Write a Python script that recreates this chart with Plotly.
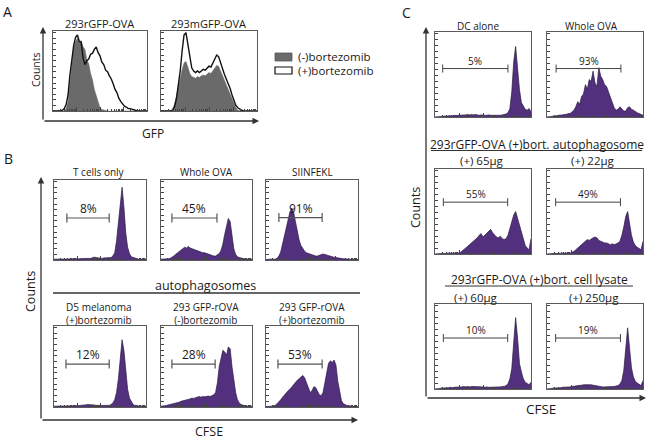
import math
import plotly.graph_objects as go

W, H = 651, 439
CHANNEL = list(range(0, 101, 2))  # 51 bins across the log fluorescence scale

# ---------------- Panel A : GFP ----------------
A_TITLES = ["293rGFP-OVA", "293mGFP-OVA"]
A_LEGEND = ["(-)bortezomib", "(+)bortezomib"]
A1_MINUS = [0, 0, 0, 0, 0, 0, 0, 3, 12, 35, 60, 78, 87, 91, 86, 88, 80, 77, 64, 59,
            47, 39, 27, 19, 9, 4, 2, 1, 0, 0, 0, 0, 0, 0, 0, 0, 0, 0, 0, 0,
            0, 0, 0, 0, 0, 0, 0, 0, 0, 0, 0]
A1_PLUS = [0, 0, 0, 0, 0, 1, 3, 8, 20, 45, 68, 82, 92, 95, 87, 86, 66, 58, 63, 65,
           71, 72, 77, 80, 73, 69, 61, 58, 51, 49, 44, 40, 34, 27, 23, 16, 12, 9, 6, 5,
           3, 3, 2, 1, 0, 0, 0, 0, 0, 0, 0]
A2_MINUS = [0, 0, 0, 0, 0, 0, 2, 8, 18, 30, 42, 52, 60, 62, 55, 47, 43, 42, 41, 43,
            42, 44, 45, 44, 46, 48, 47, 50, 54, 57, 56, 50, 44, 38, 32, 27, 22, 15, 9, 4,
            1, 0, 0, 0, 0, 0, 0, 0, 0, 0, 0]
A2_PLUS = [0, 0, 0, 0, 0, 0, 1, 5, 15, 30, 50, 75, 95, 98, 82, 65, 54, 50, 48, 50,
           48, 50, 52, 51, 54, 56, 55, 60, 66, 70, 68, 60, 52, 46, 40, 35, 28, 20, 12, 7,
           4, 2, 1, 0, 0, 0, 0, 0, 0, 0, 0]

# ---------------- Panel B : CFSE, T cells ----------------
B_TITLES = ["T cells only", "Whole OVA", "SIINFEKL",
            "D5 melanoma<br>(+)bortezomib", "293 GFP-rOVA<br>(-)bortezomib",
            "293 GFP-rOVA<br>(+)bortezomib"]
B_GROUP = "autophagosomes"
B_PCT = ["8%", "45%", "91%", "12%", "28%", "53%"]
B1 = [1, 1, 1.5, 1, 1.5, 1, 1, 1.5, 1, 1.5, 1, 1.5, 1, 1.5, 1.5, 2, 1.5, 2, 2, 2.5,
      2, 3, 3.5, 3, 2.5, 2, 2, 2.5, 2.5, 3, 3, 3, 5, 9, 24, 45, 70, 91, 66, 34,
      16, 8, 4, 3, 2, 1.5, 1, 1, 1, 1, 1]
B2 = [1, 1, 1, 1, 1.5, 2, 3, 5, 7, 9, 11, 13, 14, 16, 15, 17, 15, 14, 13, 12,
      12, 11, 10, 9, 9, 8, 7, 6, 6, 5, 5, 6, 8, 12, 20, 32, 44, 52, 48, 30,
      14, 7, 4, 3, 2, 2, 1.5, 1, 1, 1, 1]
B3 = [0.5, 1, 1, 1, 1, 1, 2, 5, 10, 20, 32, 42, 52, 60, 65, 60, 48, 35, 25, 18,
      14, 11, 9, 8, 7, 6, 6, 5, 5, 6, 7, 7.5, 7, 6, 5, 4.5, 4, 3.5, 3, 2.5,
      2, 2, 1.5, 1.5, 1, 1, 1, 1, 0.5, 0.5, 0.5]
B4 = [1, 1, 1, 1, 1, 1, 1, 1, 1, 1, 1, 1, 1, 1.5, 2, 2, 2.5, 2.5, 3, 3,
      3, 2.5, 2.5, 2, 2, 2, 1.5, 1.5, 1.5, 2, 2, 3, 5, 9, 18, 35, 58, 83, 70, 45,
      22, 11, 6, 3, 2, 1.5, 1, 1, 1, 1, 1]
B5 = [1, 1, 1.5, 2, 2.5, 3, 3.5, 4, 5, 5.5, 6, 7, 7.5, 8, 9, 9.5, 10, 11, 10.5, 11.5,
      12, 13, 12, 13, 12.5, 13, 13.5, 13, 14, 15, 18, 30, 50, 62, 70, 68, 64, 74, 72, 50,
      32, 18, 9, 5, 3, 2, 1.5, 1, 1, 1, 1]
B6 = [0.5, 0.5, 1, 1, 1.5, 2, 4, 6, 9, 12, 15, 18, 20, 22, 25, 28, 30, 33, 35, 37,
      39, 36, 30, 22, 18, 20, 25, 24, 19, 15, 14, 18, 30, 45, 54, 57, 55, 58, 52, 32,
      18, 8, 4, 2.5, 2, 1.5, 1, 1, 0.5, 0.5, 0.5]

# ---------------- Panel C : CFSE, DC presentation ----------------
C_TITLES = ["DC alone", "Whole OVA", "(+) 65\u03bcg", "(+) 22\u03bcg",
            "(+) 60\u03bcg", "(+) 250\u03bcg"]
C_GROUPS = ["293rGFP-OVA (+)bort. autophagosome", "293rGFP-OVA (+)bort. cell lysate"]
C_PCT = ["5%", "93%", "55%", "49%", "10%", "19%"]
C1 = [0, 0, 0, 0.5, 1, 1, 1.5, 1, 1.5, 1.5, 2, 1.5, 2, 2, 2.5, 2, 2.5, 3, 2.5, 3,
      2.5, 3, 2.5, 2, 2.5, 2, 2, 2, 2.5, 2, 2, 1.5, 2, 2, 2, 2.5, 3, 3.5, 5, 10,
      30, 65, 83, 55, 32, 17, 12, 9, 8, 10, 6]
C2 = [0, 0, 0.5, 1, 1, 1.5, 2, 2, 2.5, 3, 3, 4, 4, 6, 8, 12, 18, 15, 24, 27,
      38, 33, 44, 42, 54, 40, 36, 58, 48, 44, 38, 36, 30, 24, 17, 11, 8, 9, 12, 10,
      7, 7, 11, 12, 9, 8, 6, 5, 4, 3, 2]
C3 = [0, 0, 0.5, 0.5, 1, 0.5, 1, 1, 0.5, 1, 1, 1, 1, 1.5, 3, 5, 7, 9, 11, 13,
      15, 16, 19, 22, 24, 20, 22, 25, 27, 29, 25, 22, 20, 19, 21, 18, 17, 18, 22, 30,
      40, 46, 50, 42, 34, 27, 18, 10, 7, 5, 18]
C4 = [0, 0, 0.5, 0.5, 1, 0.5, 1, 0.5, 1, 1, 1, 1, 1, 2, 3, 5, 7, 9, 11, 12,
      15, 17, 16, 18, 19, 20, 19, 16, 15, 14, 13, 13, 12, 11, 12, 11, 12, 13, 15, 22,
      32, 44, 50, 36, 22, 14, 10, 8, 6, 5, 15]
C5 = [0, 0, 0.5, 1, 1, 1, 1.5, 1.5, 2, 1.5, 2, 2, 2.5, 2, 2.5, 3, 2.5, 3, 2.5, 3,
      3, 2.5, 3, 2.5, 3, 2.5, 2, 2.5, 2, 2, 2.5, 2, 2, 2, 2.5, 3, 3, 4, 6, 12,
      24, 55, 84, 60, 30, 20, 12, 8, 6, 5, 8]
C6 = [0, 0, 0.5, 1, 1, 1, 1.5, 1.5, 2, 2, 2, 2.5, 2.5, 3, 3, 3.5, 4, 4, 4.5, 5,
      5, 5.5, 5, 5, 4.5, 4, 3.5, 3, 3, 2.5, 2.5, 2.5, 2.5, 2.5, 3, 3, 3.5, 4, 6, 10,
      22, 48, 72, 48, 25, 14, 9, 7, 5, 4, 10]

for s in [A1_MINUS, A1_PLUS, A2_MINUS, A2_PLUS, B1, B2, B3, B4, B5, B6,
          C1, C2, C3, C4, C5, C6]:
    assert len(s) == len(CHANNEL)

# ---------------- styling ----------------
FONT = "Open Sans, DejaVu Sans, sans-serif"
TXT = "#1a1a1a"
PURPLE = "#52307e"
PURPLE_LINE = "#2a1b40"
GREY_FILL = "#6a6a6a"
BOX = "#5a5a5a"
AX = "#333333"

MAJ = [0, 25, 50, 75, 100]
MIN = [25 * (d + math.log10(k)) for d in range(4) for k in range(2, 10)]
YT = list(range(0, 100, 7))

BOXES = [
    (53, 147, 31, 111), (161, 257, 31, 111),                           # A
    (54, 146, 180, 260), (161, 252, 180, 260), (266, 358, 180, 260),    # B top
    (54, 146, 326, 407), (161, 252, 326, 407), (266, 358, 326, 407),    # B bottom
    (435, 531, 32, 117), (547, 643, 32, 117),                           # C
    (435, 531, 169, 254), (547, 643, 169, 254),
    (435, 531, 304, 389), (547, 643, 304, 389),
]

fig = go.Figure()
lay = {}


def px(x):
    return x / W


def py(y):
    return 1 - y / H


for i, (x0, x1, y0, y1) in enumerate(BOXES):
    n = i + 1
    sx = "" if n == 1 else str(n)
    common = dict(range=[0, 100], showline=True, mirror=True, linecolor=BOX,
                  linewidth=1, ticks="inside", tickcolor="#444444", tickwidth=1,
                  showticklabels=False, showgrid=False, zeroline=False,
                  fixedrange=True)
    lay["xaxis" + sx] = dict(domain=[px(x0), px(x1)], anchor="y" + sx,
                             tickvals=MAJ, ticklen=4,
                             minor=dict(ticks="inside", tickvals=MIN, ticklen=2.5,
                                        tickcolor="#444444", tickwidth=0.8,
                                        showgrid=False),
                             **common)
    lay["yaxis" + sx] = dict(domain=[py(y1), py(y0)], anchor="x" + sx,
                             tickvals=YT, ticklen=2.5, **common)


def hist(n, vals, fill=PURPLE, line=PURPLE_LINE, width=0.7, filled=True):
    sx = "" if n == 1 else str(n)
    fig.add_trace(go.Scatter(
        x=CHANNEL, y=vals, mode="lines", xaxis="x" + sx, yaxis="y" + sx,
        line=dict(color=line, width=width),
        fill="tozeroy" if filled else None,
        fillcolor=fill if filled else None,
        hoverinfo="skip", showlegend=False))


# Panel A traces
hist(1, A1_MINUS, fill=GREY_FILL, line=GREY_FILL, width=0.5)
hist(1, A1_PLUS, line="#111111", width=1.4, filled=False)
hist(2, A2_MINUS, fill=GREY_FILL, line=GREY_FILL, width=0.5)
hist(2, A2_PLUS, line="#111111", width=1.4, filled=False)
# Panel B / C traces
for n, s in zip(range(3, 15), [B1, B2, B3, B4, B5, B6, C1, C2, C3, C4, C5, C6]):
    hist(n, s)

ann = []
shapes = []


def text(x, y, s, size, angle=0, xanchor="center", yanchor="middle"):
    ann.append(dict(x=px(x), y=py(y), xref="paper", yref="paper", text=s,
                    showarrow=False, textangle=angle, xanchor=xanchor,
                    yanchor=yanchor, font=dict(family=FONT, size=size, color=TXT)))


def arrow(tip, tail):
    ann.append(dict(x=px(tip[0]), y=py(tip[1]), xref="paper", yref="paper",
                    ax=tail[0] - tip[0], ay=tail[1] - tip[1], axref="pixel",
                    ayref="pixel", text="", showarrow=True, arrowhead=2,
                    arrowsize=1, arrowwidth=1.3, arrowcolor=AX, standoff=0))


def hline(x0, x1, y, color=AX, w=1.2):
    shapes.append(dict(type="line", xref="paper", yref="paper", x0=px(x0), x1=px(x1),
                       y0=py(y), y1=py(y), line=dict(color=color, width=w)))


def vline(x, y0, y1, color=AX, w=1.2):
    shapes.append(dict(type="line", xref="paper", yref="paper", x0=px(x), x1=px(x),
                       y0=py(y0), y1=py(y1), line=dict(color=color, width=w)))


def bracket(box, f0, f1, fy, label, size, tick, color, w, gap):
    x0, x1, y0, y1 = box
    a = x0 + (x1 - x0) * f0 / 100
    b = x0 + (x1 - x0) * f1 / 100
    y = y1 - (y1 - y0) * fy / 100
    hline(a, b, y, color, w)
    vline(a, y - tick, y + tick, color, w)
    vline(b, y - tick, y + tick, color, w)
    text((a + b) / 2, y - gap, label, size, yanchor="bottom")


# ---- Panel A decorations ----
text(7, 12, "A", 14)
text(99, 24, A_TITLES[0], 11)
text(208, 24, A_TITLES[1], 11)
arrow((43, 27), (43, 121))
arrow((259, 121), (43, 121))
text(36, 70, "Counts", 10.5, angle=-90)
text(153, 133, "GFP", 12)
shapes.append(dict(type="rect", xref="paper", yref="paper", x0=px(275), x1=px(292),
                   y0=py(61), y1=py(53), fillcolor=GREY_FILL,
                   line=dict(color="#555555", width=0.8)))
shapes.append(dict(type="rect", xref="paper", yref="paper", x0=px(275), x1=px(292),
                   y0=py(74), y1=py(67), fillcolor="white",
                   line=dict(color="#111111", width=1.2)))
text(296, 57, A_LEGEND[0], 11.5, xanchor="left")
text(296, 70, A_LEGEND[1], 11.5, xanchor="left")

# ---- Panel B decorations ----
text(8, 158, "B", 14)
text(99, 172, B_TITLES[0], 10)
text(206, 172, B_TITLES[1], 10)
text(312, 172, B_TITLES[2], 10)
text(205, 285, B_GROUP, 12.5)
hline(53, 360, 293, color=AX, w=1.4)
text(99, 313.5, B_TITLES[3], 10)
text(206, 313.5, B_TITLES[4], 10)
text(312, 313.5, B_TITLES[5], 10)
arrow((41, 177), (41, 420))
arrow((358, 420), (41, 420))
text(30, 292, "Counts", 12.5, angle=-90)
text(209, 431, "CFSE", 12.5)
b_fy = [52.5, 52.5, 53, 53, 53, 53]
b_f = [(14, 60), (12, 61.5), (14, 61), (13, 60), (12, 59.5), (13, 61)]
for k in range(6):
    bracket(BOXES[2 + k], b_f[k][0], b_f[k][1], b_fy[k], B_PCT[k], 12, 4.5,
            "#555555", 1.2, -1)

# ---- Panel C decorations ----
text(406, 13, "C", 14)
text(478, 26, C_TITLES[0], 10)
text(591, 26, C_TITLES[1], 10)
text(537, 144, C_GROUPS[0], 12)
hline(431, 642, 150.5, color=AX, w=1)
text(482, 161, C_TITLES[2], 11.5)
text(593, 161, C_TITLES[3], 11.5)
text(539, 279, C_GROUPS[1], 12)
hline(445, 633, 286, color=AX, w=1)
text(476, 297.5, C_TITLES[4], 11.5)
text(594, 297, C_TITLES[5], 11.5)
arrow((426, 27), (426, 398))
arrow((646, 398), (426, 398))
text(415, 208, "Counts", 12.5, angle=-90)
text(541, 409, "CFSE", 13.5)
c_f = [(8, 76), (9.5, 77), (8.7, 75.7), (9, 76.5), (8.7, 75.7), (9, 76.5)]
c_fy = [57, 57, 61, 61, 60, 60]
for k in range(6):
    bracket(BOXES[8 + k], c_f[k][0], c_f[k][1], c_fy[k], C_PCT[k], 10, 4,
            "#444444", 1, -1)

fig.update_layout(width=W, height=H, margin=dict(l=0, r=0, t=0, b=0),
                  paper_bgcolor="white", plot_bgcolor="white",
                  annotations=ann, shapes=shapes, showlegend=False, **lay)
fig.write_html("out.html", config={"displayModeBar": False},
               post_script="document.body.style.margin='0';"
                           "document.body.style.padding='0';")
